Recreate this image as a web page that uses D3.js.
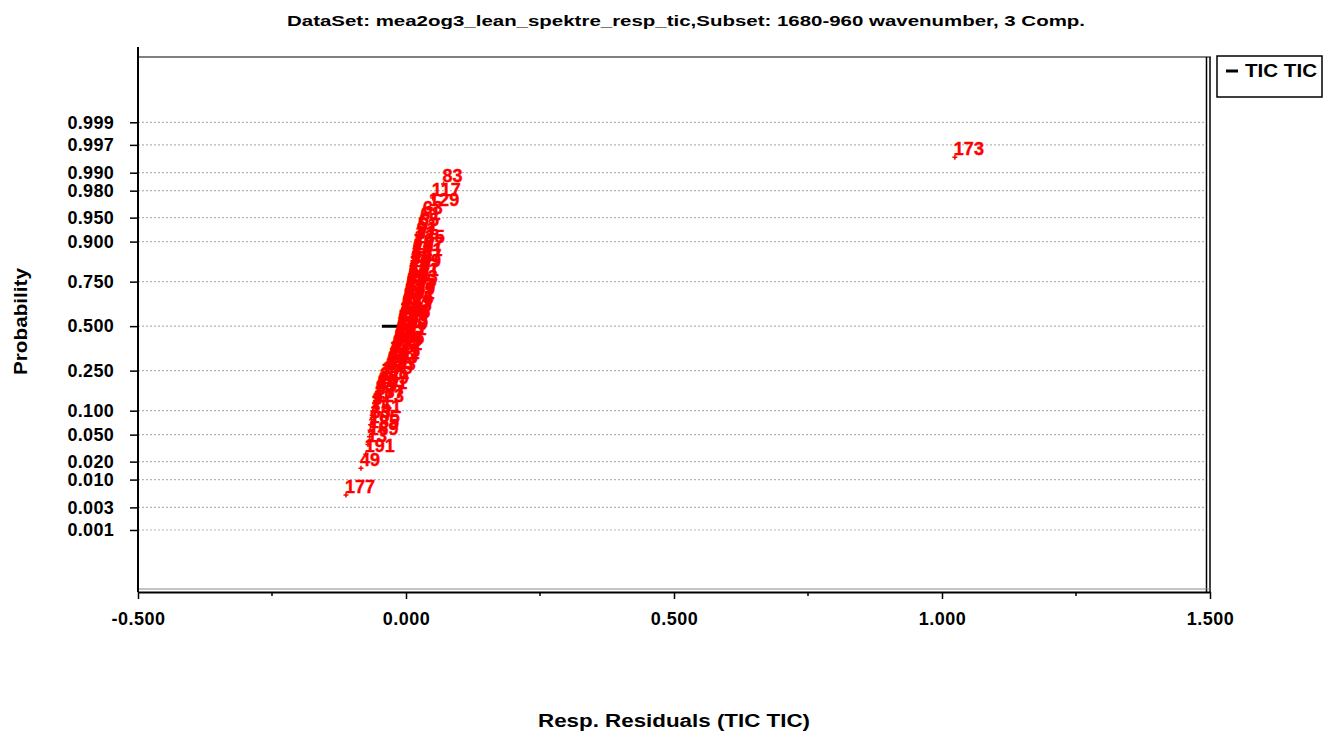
<!DOCTYPE html>
<html lang="en">
<head>
<meta charset="utf-8">
<title>Normal probability plot of residuals</title>
<script src="https://cdn.jsdelivr.net/npm/d3@7/dist/d3.min.js"></script>
<style>
  * { margin: 0; padding: 0; }
  body { background: #fff; }
  svg { display: block; font-family: "Liberation Sans", Arial, sans-serif; }
</style>
</head>
<body>
<div id="chart"></div>
<script>
  // sample numbers, in rank order (lowest residual first)
  const sampleIds = [177, 49, 191, 13, 169, 185, 105, 33, 151, 71, 9, 123, 187, 57, 95, 141,
    25, 159, 3, 111, 77, 179, 41, 133, 89, 19, 163, 53, 101, 145, 7, 127, 67, 181, 37, 115,
    155, 21, 93, 137, 45, 171, 1, 87, 149, 29, 103, 183, 59, 11, 119, 165, 75, 39, 107, 143,
    15, 189, 81, 125, 47, 97, 161, 5, 139, 69, 113, 27, 175, 85, 153, 43, 99, 131, 17, 157,
    73, 109, 35, 147, 55, 121, 23, 167, 79, 135, 31, 91, 51, 65, 61, 63, 129, 117, 83, 173];

  // residuals, same order
  const residuals = [-0.112, -0.084, -0.075, -0.071, -0.068, -0.067, -0.066, -0.064, -0.063, -0.062,
    -0.060, -0.058, -0.057, -0.055, -0.053, -0.052, -0.051, -0.049, -0.047, -0.045,
    -0.043, -0.041, -0.038, -0.036, -0.034, -0.033, -0.032, -0.030, -0.029, -0.028,
    -0.027, -0.026, -0.025, -0.024, -0.023, -0.022, -0.020, -0.019, -0.019, -0.018,
    -0.017, -0.016, -0.016, -0.015, -0.014, -0.014, -0.013, -0.013, -0.012, -0.011,
    -0.010, -0.009, -0.008, -0.008, -0.007, -0.006, -0.006, -0.005, -0.004, -0.003,
    -0.003, -0.002, -0.001, 0.000, 0.000, 0.001, 0.002, 0.003, 0.003, 0.004,
    0.005, 0.006, 0.007, 0.007, 0.008, 0.009, 0.010, 0.011, 0.011, 0.012,
    0.013, 0.014, 0.015, 0.016, 0.017, 0.018, 0.020, 0.022, 0.024, 0.026,
    0.029, 0.033, 0.045, 0.050, 0.070, 1.024];

  const probTicks = [0.001, 0.003, 0.010, 0.020, 0.050, 0.100, 0.250, 0.500,
                     0.750, 0.900, 0.950, 0.980, 0.990, 0.997, 0.999];
  const xMajorTicks = [-0.5, 0, 0.5, 1.0, 1.5];
  const xMinorTicks = [-0.25, 0.25, 0.75, 1.25];
  const seriesName = "TIC TIC";
  const seriesMarker = -0.004;   // the black dash at p = 0.5

  const W = 1335, H = 733;
  const L = 138, R = 1210, T = 57, B = 590;

  // inverse normal cdf (Acklam)
  function probit(p) {
    const a = [-39.69683028665376, 220.9460984245205, -275.9285104469687, 138.3577518672690, -30.66479806614716, 2.506628277459239];
    const b = [-54.47609879822406, 161.5858368580409, -155.6989798598866, 66.80131188771972, -13.28068155288572];
    const c = [-0.007784894002430293, -0.3223964580411365, -2.400758277161838, -2.549732539343734, 4.374664141464968, 2.938163982698783];
    const d = [0.007784695709041462, 0.3224671290700398, 2.445134137142996, 3.754408661907416];
    const pl = 0.02425;
    let q, r;
    if (p < pl) {
      q = Math.sqrt(-2 * Math.log(p));
      return (((((c[0]*q+c[1])*q+c[2])*q+c[3])*q+c[4])*q+c[5]) / ((((d[0]*q+d[1])*q+d[2])*q+d[3])*q+1);
    }
    if (p > 1 - pl) {
      q = Math.sqrt(-2 * Math.log(1 - p));
      return -(((((c[0]*q+c[1])*q+c[2])*q+c[3])*q+c[4])*q+c[5]) / ((((d[0]*q+d[1])*q+d[2])*q+d[3])*q+1);
    }
    q = p - 0.5; r = q * q;
    return (((((a[0]*r+a[1])*r+a[2])*r+a[3])*r+a[4])*r+a[5])*q / (((((b[0]*r+b[1])*r+b[2])*r+b[3])*r+b[4])*r+1);
  }

  const n = residuals.length;
  const points = residuals.map((v, i) => ({ id: sampleIds[i], v: v, z: probit((i + 0.5) / n) }));

  const x = d3.scaleLinear().domain([-0.5, 1.5]).range([L, R]);
  const y = d3.scaleLinear().domain([-4.0, 4.08]).range([B, T]);
  const fmt = d3.format(".3f");

  const svg = d3.select("#chart").append("svg")
    .attr("width", W).attr("height", H);

  // title
  svg.append("text")
    .attr("x", 686).attr("y", 26)
    .attr("text-anchor", "middle")
    .attr("textLength", 798).attr("lengthAdjust", "spacingAndGlyphs")
    .style("font-size", "15px").style("font-weight", "bold")
    .text("DataSet: mea2og3_lean_spektre_resp_tic,Subset: 1680-960 wavenumber, 3 Comp.");

  // grid lines
  svg.append("g").selectAll("line")
    .data(probTicks)
    .join("line")
    .attr("x1", L).attr("x2", R - 3)
    .attr("y1", d => y(probit(d))).attr("y2", d => y(probit(d)))
    .attr("stroke", "#b4b4b4").attr("stroke-width", 1.2)
    .attr("stroke-dasharray", "2,2");

  // frame
  svg.append("line").attr("x1", L).attr("x2", R + 1).attr("y1", T).attr("y2", T)
    .attr("stroke", "#000").attr("stroke-width", 1);
  svg.append("line").attr("x1", R - 3.5).attr("x2", R - 3.5).attr("y1", T).attr("y2", B + 2)
    .attr("stroke", "#000").attr("stroke-width", 1.5);
  svg.append("line").attr("x1", R).attr("x2", R).attr("y1", T).attr("y2", B + 2)
    .attr("stroke", "#000").attr("stroke-width", 1.5);
  svg.append("line").attr("x1", L).attr("x2", R).attr("y1", B - 1).attr("y2", B - 1)
    .attr("stroke", "#888").attr("stroke-width", 1);

  // y axis
  const yAxis = d3.axisLeft(y)
    .tickValues(probTicks.map(probit))
    .tickFormat((d, i) => fmt(probTicks[i]))
    .tickSize(8).tickPadding(16).tickSizeOuter(0);
  const gy = svg.append("g").attr("transform", `translate(${L},0)`).call(yAxis);
  gy.select(".domain").attr("d", `M0,${T - 10}V${B + 2}`).attr("stroke-width", 2);
  gy.selectAll(".tick line").attr("stroke-width", 1.5);
  gy.selectAll("text").style("font-size", "18px").style("font-weight", "bold")
    .style("letter-spacing", "0.3px").attr("fill", "#000");

  // x axis
  const xAxis = d3.axisBottom(x)
    .tickValues(xMajorTicks)
    .tickFormat(d => fmt(d).replace("\u2212", "-"))
    .tickSize(7).tickPadding(13).tickSizeOuter(0);
  const gx = svg.append("g").attr("transform", `translate(0,${B + 2})`).call(xAxis);
  gx.select(".domain").attr("stroke-width", 2);
  gx.selectAll(".tick line").attr("stroke-width", 1.5);
  gx.selectAll("text").style("font-size", "18px").style("font-weight", "bold")
    .style("letter-spacing", "0.5px").attr("fill", "#000");
  gx.append("g").selectAll("line")
    .data(xMinorTicks)
    .join("line")
    .attr("x1", d => x(d)).attr("x2", d => x(d))
    .attr("y1", 0).attr("y2", 4)
    .attr("stroke", "#000").attr("stroke-width", 1.5);

  // axis titles
  svg.append("text")
    .attr("x", (L + R) / 2).attr("y", 727)
    .attr("text-anchor", "middle")
    .attr("textLength", 272).attr("lengthAdjust", "spacingAndGlyphs")
    .style("font-size", "18px").style("font-weight", "bold")
    .text("Resp. Residuals (" + seriesName + ")");
  svg.append("text")
    .attr("transform", `translate(27,${(T + B) / 2 - 2}) rotate(-90)`)
    .attr("text-anchor", "middle")
    .attr("textLength", 107).attr("lengthAdjust", "spacingAndGlyphs")
    .style("font-size", "18px").style("font-weight", "bold")
    .text("Probability");

  // series dash at p = 0.5
  svg.append("line")
    .attr("x1", x(seriesMarker) - 22).attr("x2", x(seriesMarker) + 22)
    .attr("y1", y(probit(0.5))).attr("y2", y(probit(0.5)))
    .attr("stroke", "#000").attr("stroke-width", 3);

  // points + labels
  const gp = svg.append("g");
  gp.selectAll("path.pt")
    .data(points)
    .join("path")
    .attr("class", "pt")
    .attr("d", d => {
      const px = x(d.v), py = y(d.z);
      return `M${px - 2.5},${py}H${px + 2.5}M${px},${py - 2.5}V${py + 2.5}`;
    })
    .attr("stroke", "#ff0000").attr("stroke-width", 1.5);
  gp.selectAll("text.lbl")
    .data(points)
    .join("text")
    .attr("class", "lbl")
    .attr("x", d => x(d.v) - 1)
    .attr("y", d => y(d.z) - 2)
    .attr("fill", "#ff0000")
    .attr("stroke", "#ff0000").attr("stroke-width", 0.4)
    .style("font-size", "18px").style("font-weight", "bold")
    .text(d => d.id);

  // legend
  const lg = svg.append("g").attr("transform", "translate(1217,56)");
  lg.append("rect").attr("x", 0).attr("y", 0).attr("width", 105).attr("height", 41)
    .attr("fill", "#fff").attr("stroke", "#000").attr("stroke-width", 1.5);
  lg.append("line").attr("x1", 9).attr("x2", 21).attr("y1", 15).attr("y2", 15)
    .attr("stroke", "#000").attr("stroke-width", 3);
  lg.append("text").attr("x", 28).attr("y", 21)
    .attr("textLength", 72).attr("lengthAdjust", "spacingAndGlyphs")
    .style("font-size", "18px").style("font-weight", "bold")
    .text(seriesName);
</script>
</body>
</html>
